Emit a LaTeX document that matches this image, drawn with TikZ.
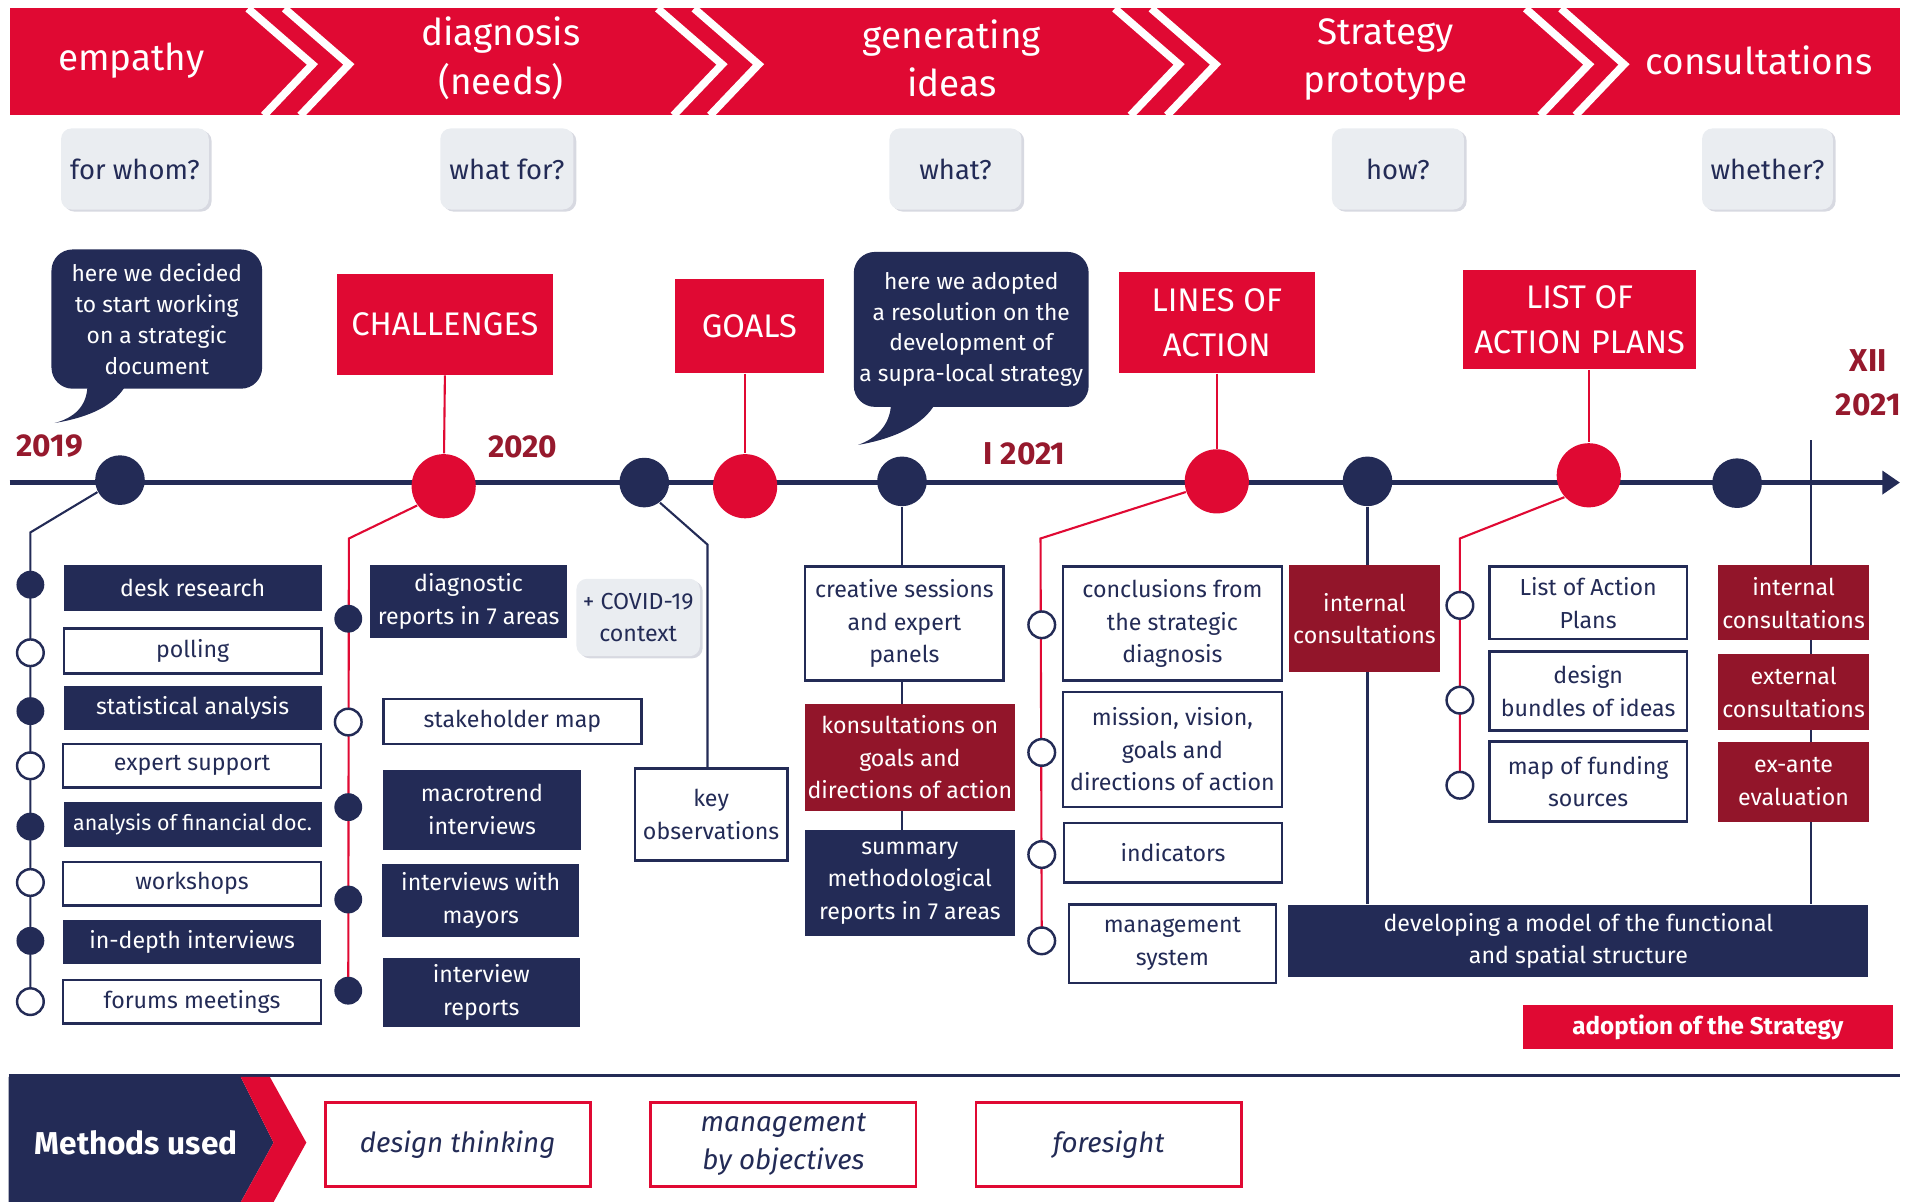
\documentclass[tikz,border=0pt]{standalone}
\usepackage{fontspec}
\setmainfont{Fira Sans}
\usetikzlibrary{arrows.meta,backgrounds,shadows}

\definecolor{brandred}{RGB}{224,9,51}
\definecolor{navy}{RGB}{35,43,86}
\definecolor{wine}{RGB}{146,21,42}
\definecolor{yearred}{RGB}{150,25,45}
\definecolor{qgray}{RGB}{234,237,241}

\begin{document}
\begin{tikzpicture}[x=0.012156cm, y=-0.012156cm,
	every node/.style={inner sep=0pt, align=center, font=\fontsize{6.6}{9.3}\selectfont},
	wh/.style 2 args={minimum width=#1*0.3446pt, minimum height=#2*0.3446pt},
	bannertext/.style={text=white, font=\fontsize{10.5}{13.8}\selectfont},
	question/.style={fill=qgray, text=navy, rounded corners=3pt, font=\fontsize{7.8}{9}\selectfont,
		drop shadow={shadow xshift=0.8pt, shadow yshift=-0.6pt, opacity=0.18, fill=navy}},
	bubble/.style={fill=navy, text=white, rounded corners=6pt, font=\fontsize{6.5}{8.8}\selectfont},
	header/.style={fill=brandred, text=white, font=\fontsize{9.3}{13}\selectfont},
	year/.style={text=yearred, font=\bfseries\fontsize{9}{12.4}\selectfont},
	tnavy/.style={circle, fill=navy, minimum size=41*0.3446pt},
	tred/.style={circle, fill=brandred, minimum size=53*0.3446pt},
	mfill/.style={circle, fill=navy, minimum size=23*0.3446pt},
	mopen/.style={circle, draw=navy, line width=0.7pt, fill=white, minimum size=22*0.3446pt},
	navybox/.style={fill=navy, text=white},
	winebox/.style={fill=wine, text=white},
	whitebox/.style={draw=navy, line width=0.7pt, fill=white, text=navy},
	graybox/.style={fill=qgray, text=navy, rounded corners=3pt,
		drop shadow={shadow xshift=0.8pt, shadow yshift=-0.6pt, opacity=0.18, fill=navy}},
	methodbox/.style={draw=brandred, line width=0.8pt, fill=white, text=navy, font=\itshape\fontsize{7.9}{11}\selectfont},
	navyline/.style={draw=navy, line width=0.6pt},
	redline/.style={draw=brandred, line width=0.6pt}]
	\useasboundingbox (0,0) rectangle (1568,988.8);

	% phases
	\fill[brandred] (8,7) rectangle (1563,95);
	\draw[white, line width=2.2pt] (204,7) -- (257,53) -- (217,95);
	\draw[white, line width=2.2pt] (234,7) -- (287,53) -- (247,95);
	\draw[white, line width=2.2pt] (541,7) -- (594,53) -- (554,95);
	\draw[white, line width=2.2pt] (571,7) -- (624,53) -- (584,95);
	\draw[white, line width=2.2pt] (917,7) -- (970,53) -- (930,95);
	\draw[white, line width=2.2pt] (947,7) -- (1000,53) -- (960,95);
	\draw[white, line width=2.2pt] (1255,7) -- (1307,53) -- (1267,95);
	\draw[white, line width=2.2pt] (1284,7) -- (1336,53) -- (1296,95);
	\node[bannertext] (ph1) at (108,50) {empathy};
	\node[bannertext] (ph2) at (412,48) {diagnosis\\(needs)};
	\node[bannertext] (ph3) at (783,48) {generating\\ideas};
	\node[bannertext] (ph4) at (1140,49) {Strategy\\prototype};
	\node[bannertext] (ph5) at (1447,50) {consultations};

	\node[question, wh={122}{67}] (q1) at (111,139) {for whom?};
	\node[question, wh={110}{67}] (q2) at (417,139) {what for?};
	\node[question, wh={109}{67}] (q3) at (786,139) {what?};
	\node[question, wh={109}{67}] (q4) at (1150,139) {how?};
	\node[question, wh={108}{67}] (q5) at (1454,139) {whether?};

	% bubbles
	\node[bubble, wh={174}{115}] (b1) at (129,262.5) {here we decided\\to start working\\on a strategic\\document};
	\fill[navy] (72,316) .. controls (72,335) and (60,344) .. (45,348) .. controls (75,343) and (95,333) .. (104,316) -- cycle;
	\node[bubble, wh={194}{128}] (b2) at (799,271) {here we adopted\\a resolution on the\\development of\\a supra-local strategy};
	\fill[navy] (733,331) .. controls (733,350) and (720,361) .. (706,366) .. controls (735,361) and (760,350) .. (770,331) -- cycle;

	% headers
	\node[header, wh={178}{83}] (chal) at (366,267) {CHALLENGES};
	\node[header, wh={123}{78}] (goals) at (616.5,268) {GOALS};
	\node[header, wh={162}{83}] (lines) at (1001,265.5) {LINES OF\\ACTION};
	\node[header, wh={193}{82}] (list) at (1299.5,263) {LIST OF\\ACTION PLANS};

	% years
	\node[year] (y19) at (41,367) {2019};
	\node[year] (y20) at (430,368) {2020};
	\node[year] (y21) at (843,373) {I 2021};
	\node[year] (y21b) at (1537,315) {XII\\2021};

	% timeline
	\coordinate (tl0) at (8,397);
	\coordinate (tl1) at (1563,397);
	\node[tnavy] (d1) at (98.7,395) {};
	\node[tred] (d2) at (365,400) {};
	\node[tnavy] (d3) at (530,397) {};
	\node[tred] (d4) at (613,400) {};
	\node[tnavy] (d5) at (742,396) {};
	\node[tred] (d6) at (1001,396) {};
	\node[tnavy] (d7) at (1125,396) {};
	\node[tred] (d8) at (1307,391) {};
	\node[tnavy] (d9) at (1429,397.5) {};

	% empathy methods
	\coordinate (c1) at (25,438);
	\node[mfill] (l1) at (25,481) {};
	\node[mopen] (l2) at (25,537) {};
	\node[mfill] (l3) at (25,585) {};
	\node[mopen] (l4) at (25,630) {};
	\node[mfill] (l5) at (25,680) {};
	\node[mopen] (l6) at (25,726) {};
	\node[mfill] (l7) at (25,774) {};
	\node[mopen] (l8) at (25,824) {};
	\node[navybox, wh={213}{38}] (desk) at (158.5,484) {desk research};
	\node[whitebox, wh={213}{37}] (poll) at (158.5,535.5) {polling};
	\node[navybox, wh={213}{37}] (stat) at (158.5,582.5) {statistical analysis};
	\node[whitebox, wh={213}{36}] (expert) at (158,630) {expert support};
	\node[navybox, wh={213}{37}, font=\fontsize{6.1}{9}\selectfont] (fin) at (158.5,678.5) {analysis of financial doc.};
	\node[whitebox, wh={213}{36}] (work) at (158,727) {workshops};
	\node[navybox, wh={213}{36}] (depth) at (158,775) {in-depth interviews};
	\node[whitebox, wh={213}{36}] (forum) at (158,824) {forums meetings};

	% diagnosis
	\coordinate (c2) at (287,443);
	\node[mfill] (m1) at (286.5,509) {};
	\node[mopen] (m2) at (286.5,594) {};
	\node[mfill] (m3) at (286.5,664) {};
	\node[mfill] (m4) at (286.5,740) {};
	\node[mfill] (m5) at (286.5,815) {};
	\node[navybox, wh={163}{60}] (diag) at (385.5,495) {diagnostic\\reports in 7 areas};
	\node[graybox, wh={102}{64}] (covid) at (525,508) {+ COVID-19\\context};
	\node[whitebox, wh={213}{37}] (stake) at (421.5,593.5) {stakeholder map};
	\node[navybox, wh={163}{66}] (macro) at (396.5,666) {macrotrend\\interviews};
	\node[navybox, wh={163}{60}] (mayor) at (395.5,741) {interviews with\\mayors};
	\node[navybox, wh={163}{57}] (irep) at (396,816.5) {interview\\reports};

	\coordinate (c3) at (582,448);
	\node[whitebox, wh={126}{76}] (key) at (585,670) {key\\observations};

	% generating ideas
	\node[whitebox, wh={164}{94}] (creat) at (744,513) {creative sessions\\and expert\\panels};
	\node[winebox, wh={173}{88}] (kons) at (748.5,623) {konsultations on\\goals and\\directions of action};
	\node[navybox, wh={173}{87}] (summ) at (748.5,726.5) {summary\\methodological\\reports in 7 areas};

	\coordinate (c6) at (856,443);
	\node[mopen] (n1) at (857,514) {};
	\node[mopen] (n2) at (857,619) {};
	\node[mopen] (n3) at (857,703) {};
	\node[mopen] (n4) at (857,774) {};
	\node[whitebox, wh={181}{94}] (concl) at (964.5,513) {conclusions from\\the strategic\\diagnosis};
	\node[whitebox, wh={181}{95}] (miss) at (964.5,616.5) {mission, vision,\\goals and\\directions of action};
	\node[whitebox, wh={180}{49}] (indic) at (965,701.5) {indicators};
	\node[whitebox, wh={171}{65}] (mgmt) at (964.5,776.5) {management\\system};

	% prototype
	\node[winebox, wh={125}{88}] (int1) at (1122.5,509) {internal\\consultations};
	\node[navybox, wh={479}{60}] (dev) at (1298.5,774) {developing a model of the functional\\and spatial structure};

	\coordinate (c8) at (1201,443);
	\node[mopen] (p1) at (1201,498) {};
	\node[mopen] (p2) at (1201,576) {};
	\node[mopen] (p3) at (1201,646) {};
	\node[whitebox, wh={163}{60}] (lap) at (1306.5,496) {List of Action\\Plans};
	\node[whitebox, wh={163}{65}] (bund) at (1306.5,568.5) {design\\bundles of ideas};
	\node[whitebox, wh={163}{66}] (fund) at (1306.5,643) {map of funding\\sources};

	% consultations
	\coordinate (xii) at (1490,362);
	\node[winebox, wh={125}{62}] (int2) at (1475.5,496) {internal\\consultations};
	\node[winebox, wh={125}{63}] (ext) at (1475.5,569.5) {external\\consultations};
	\node[winebox, wh={125}{66}] (exa) at (1475.5,643) {ex-ante\\evaluation};
	\node[fill=brandred, text=white, font=\bfseries\fontsize{6.9}{9}\selectfont, wh={306}{36}] (adopt) at (1405,845) {adoption of the Strategy};

	% connectors
	\begin{scope}[on background layer]
		\draw[navy, line width=1.2pt, -{Triangle[length=5pt, width=6.5pt]}] (tl0) -- (tl1);
		\draw[redline] (chal.south) -- (d2);
		\draw[redline] (d4 |- goals.south) -- (d4);
		\draw[redline] (lines.south) -- (d6);
		\draw[redline] (d8 |- list.south) -- (d8);
		\draw[navyline] (d1.208) -- (c1) -- (l8.center);
		\draw[redline] (d2.216) -- (c2) -- (m5.center);
		\draw[navyline] (d3.308) -- (c3) -- (c3 |- key.north);
		\draw[navyline] (d5) -- (d5 |- summ.north);
		\draw[redline] (d6.199) -- (c6) -- (n4.center);
		\draw[navyline] (d7) -- (d7 |- dev.north);
		\draw[redline] (d8.222) -- (c8) -- (p3.center);
		\draw[navyline] (xii) -- (xii |- dev.north);
	\end{scope}

	% methods used
	\draw[navy, line width=0.9pt] (7,885) -- (1563,885);
	\fill[navy] (7,886) -- (198,886) -- (225,940) -- (198,989) -- (7,989) -- cycle;
	\fill[brandred] (198,886) -- (222,886) -- (252,940) -- (225,989) -- (198,989) -- (225,940) -- cycle;
	\node[text=white, font=\bfseries\fontsize{9}{11}\selectfont] (used) at (112,940) {Methods used};
	\node[methodbox, wh={219}{69}] (dt) at (376.5,941.5) {design thinking};
	\node[methodbox, wh={219}{69}] (mbo) at (644.5,941.5) {management\\by objectives};
	\node[methodbox, wh={219}{69}] (fore) at (912,941.5) {foresight};

\end{tikzpicture}
\end{document}
